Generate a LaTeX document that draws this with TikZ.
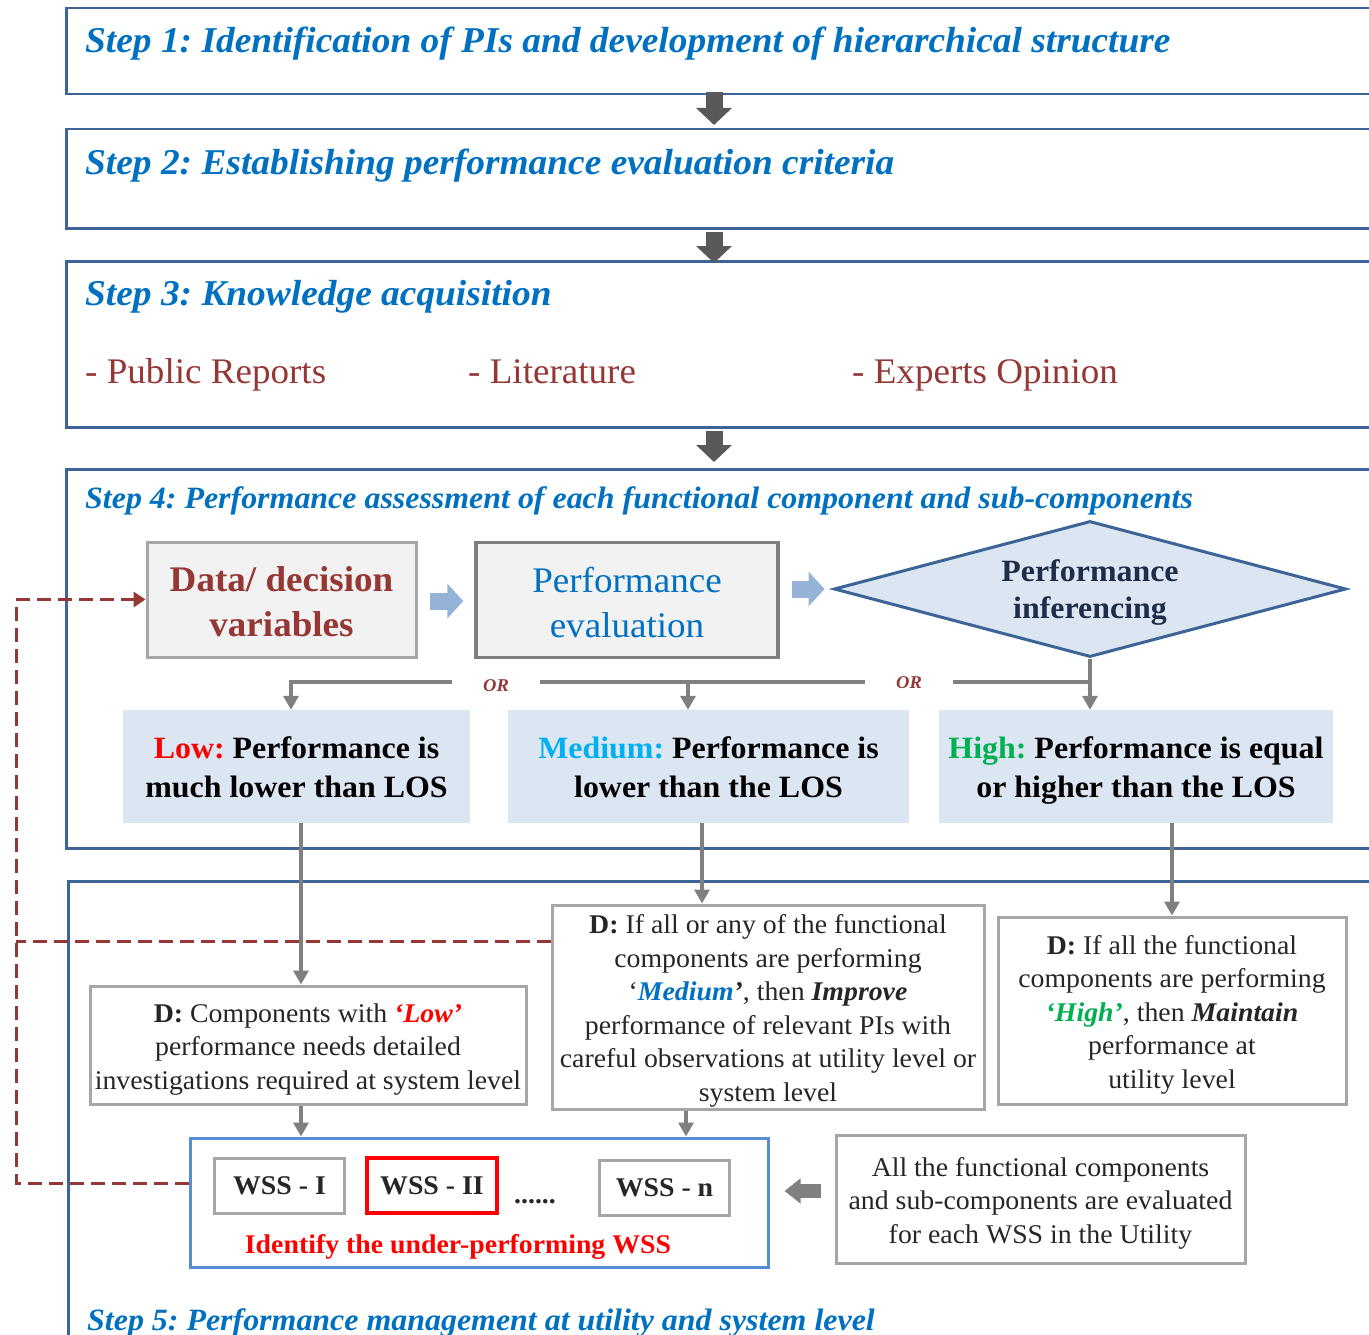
\documentclass[tikz,border=0pt]{standalone}
\usepackage{fontspec}
\setmainfont{Liberation Serif}[FakeStretch=1.03]
\usetikzlibrary{arrows.meta,shapes.geometric,calc}

\definecolor{frameblue}{HTML}{3C6496}
\definecolor{titleblue}{HTML}{0070C0}
\definecolor{darkred}{HTML}{953735}
\definecolor{paleblue}{HTML}{DCE6F2}
\definecolor{arrowblue}{HTML}{95B3D7}
\definecolor{darkgrey}{HTML}{595959}
\definecolor{midgrey}{HTML}{808080}
\definecolor{boxgrey}{HTML}{A6A6A6}
\definecolor{evalgrey}{HTML}{7F7F7F}
\definecolor{stagegrey}{HTML}{F2F2F2}
\definecolor{wssblue}{HTML}{558ED5}
\definecolor{navy}{HTML}{1F2D4A}
\definecolor{medcyan}{HTML}{00B0F0}
\definecolor{highgreen}{HTML}{00B050}
\definecolor{inkgrey}{HTML}{262626}

\newcommand\fsz[2]{\fontsize{#1}{#2}\selectfont}
% invisible rules fixing the height of a first line and the depth of a last line
\newcommand\hstrut[1]{\rule{0pt}{#1pt}}
\newcommand\dstrut[1]{\rule[-#1pt]{0pt}{#1pt}}
\frenchspacing

\tikzset{
  frame/.style={draw=frameblue, line width=2.5pt, anchor=north west, minimum width=1320pt, inner sep=0pt},
  steptitle/.style={anchor=base west, inner sep=0pt, text=titleblue, font=\bfseries\itshape\fsz{36.3}{44}},
  smalltitle/.style={anchor=base west, inner sep=0pt, text=titleblue, font=\bfseries\itshape\fsz{31}{38}},
  source/.style={anchor=base west, inner sep=0pt, text=darkred, font=\fsz{36}{42}},
  greybox/.style={draw=boxgrey, line width=3pt, fill=white, inner sep=0pt, align=center, text=inkgrey, font=\fsz{27}{33.5}},
  losbox/.style={fill=paleblue, inner sep=0pt, align=center, minimum height=113pt, font=\bfseries\fsz{31}{39}},
  stagebox/.style={fill=stagegrey, line width=3pt, inner sep=0pt, align=center, minimum height=115pt, font=\fsz{36}{45}},
  wssitem/.style={draw=boxgrey, line width=3pt, fill=white, minimum height=55pt, minimum width=130pt, inner sep=0pt, font=\bfseries\fsz{27}{32}, text=inkgrey},
  stepflow/.style={draw=darkgrey, line width=17pt, -{Triangle[width=35pt,length=17pt]}},
  stageflow/.style={draw=arrowblue, line width=17pt, -{Triangle[width=34pt,length=16pt]}},
  branch/.style={draw=midgrey, line width=3.5pt},
  drop/.style={draw=midgrey, line width=3.5pt, -{Triangle[width=15pt,length=14pt]}},
  feedback/.style={draw=darkred, line width=3pt, dash pattern=on 14pt off 7pt},
  orlabel/.style={fill=white, inner sep=0pt, minimum width=88pt, minimum height=18pt, text=darkred, font=\bfseries\itshape\fsz{18}{20}}
}

\begin{document}
\begin{tikzpicture}[x=1pt,y=-1pt]
\useasboundingbox (0,0) rectangle (1369,1335);
\clip (0,0) rectangle (1369,1335);
\fill[white] (0,0) rectangle (1369,1335);

% the five step frames and their titles
\node[frame, minimum height=86pt] (s1) at (65,7) {};
\node[steptitle] (t1) at (85,53) {Step 1: Identification of PIs and development of hierarchical structure};
\node[frame, minimum height=99pt] (s2) at (65,128) {};
\node[steptitle] (t2) at (85,175) {Step 2: Establishing performance evaluation criteria};
\node[frame, minimum height=166pt] (s3) at (65,260) {};
\node[steptitle] (t3) at (85,305) {Step 3: Knowledge acquisition};
\node[source] (k1) at (85,383) {- Public Reports};
\node[source] (k2) at (468,383) {- Literature};
\node[source] (k3) at (852,383) {- Experts Opinion};
\node[frame, minimum height=379pt] (s4) at (65,468) {};
\node[smalltitle] (t4) at (85,508) {Step 4: Performance assessment of each functional component and sub-components};
\node[frame, minimum height=500pt] (s5) at (67,880) {};
\node[smalltitle] (t5) at (87,1330) {Step 5: Performance management at utility and system level};

% arrows between steps
\coordinate (ax) at (714,0);
\draw[stepflow] ($(s1.south -| ax)+(0,-3)$) -- ($(s2.north -| ax)+(0,-3)$);
\draw[stepflow] ($(s2.south -| ax)+(0,2)$) -- ($(s3.north -| ax)+(0,3)$);
\draw[stepflow] ($(s3.south -| ax)+(0,2)$) -- ($(s4.north -| ax)+(0,-6)$);

% step 4: assessment chain
\node[stagebox, draw=boxgrey, minimum width=269pt, text=darkred, font=\bfseries\fsz{36}{45}] (data) at (281.5,599.5) {\hstrut{34}Data/ decision\\variables\dstrut{5}};
\node[stagebox, draw=evalgrey, line width=3.5pt, minimum width=302pt, text=titleblue] (perf) at (627,600) {\hstrut{34}Performance\\evaluation\dstrut{5}};
\node[diamond, aspect=3.76, draw=frameblue, line width=3pt, fill=paleblue, inner sep=0pt, minimum width=512pt, minimum height=136pt, align=center, text=navy, font=\bfseries\fsz{31}{37}] (infer) at (1090,589) {\hstrut{30}Performance\\inferencing\dstrut{7.7}};
\draw[stageflow] ($(data.east)+(12,1.5)$) -- ($(perf.west)+(-11,1)$);
\draw[stageflow] ($(perf.east)+(12,-11)$) -- ($(infer.west)+(-8,0)$);

% performance classes
\node[losbox, minimum width=347pt] (low) at (296.5,766.5) {\hstrut{30}{\color{red}Low:} Performance is\\much lower than LOS\dstrut{8}};
\node[losbox, minimum width=401pt] (med) at (708.5,766.5) {\hstrut{30}{\color{medcyan}Medium:} Performance is\\lower than the LOS\dstrut{8}};
\node[losbox, minimum width=394pt] (high) at (1136,766.5) {\hstrut{30}{\color{highgreen}High:} Performance is equal\\or higher than the LOS\dstrut{8}};

\coordinate (hy) at (0,682);
\coordinate (lx) at (291,0);
\coordinate (mx) at (688,0);
\draw[branch] (infer.south |- hy) -- ($(lx |- hy)+(-1.75,0)$);
\draw[drop] (infer.south) -- (infer.south |- high.north);
\draw[drop] (lx |- hy) -- (lx |- low.north);
\draw[drop] (mx |- hy) -- (mx |- med.north);
\node[orlabel] (or1) at (496,686) {OR};
\node[orlabel] (or2) at (909,683) {OR};

% step 5: decisions
\node[greybox, minimum width=436pt, minimum height=118pt] (dlow) at (308,1045)
  {\hstrut{28}{\bfseries D:} Components with {\color{red}\bfseries\itshape ‘Low’}\\performance needs detailed\\investigations required at system level\dstrut{6.6}};
\node[greybox, minimum width=432pt, minimum height=204pt] (dmed) at (768,1007)
  {\hstrut{28}{\bfseries D:} If all or any of the functional\\components are performing\\‘{\color{titleblue}\bfseries\itshape Medium}{\bfseries\itshape ’}, then {\bfseries\itshape Improve}\\performance of relevant PIs with\\careful observations at utility level or\\system level\dstrut{6.6}};
\node[greybox, minimum width=348pt, minimum height=187pt] (dhigh) at (1172,1010.5)
  {\hstrut{28}{\bfseries D:} If all the functional\\components are performing\\{\color{highgreen}\bfseries\itshape ‘High’}, then {\bfseries\itshape Maintain}\\performance at\\utility level\dstrut{6.6}};

\coordinate (lx2) at (301,0);
\coordinate (mx2) at (702,0);
\coordinate (mx3) at (686,0);
\draw[drop] (low.south -| lx2) -- (dlow.north -| lx2);
\draw[drop] (med.south -| mx2) -- (dmed.north -| mx2);
\draw[drop] (high.south -| dhigh.north) -- (dhigh.north);

% water supply systems
\node[draw=wssblue, line width=3pt, fill=white, minimum width=578pt, minimum height=129pt, inner sep=0pt] (wss) at (479,1202.5) {};
\node[wssitem] (w1) at (279.5,1185.5) {WSS - I};
\node[wssitem, draw=red, line width=3.5pt] (w2) at (432,1185.5) {WSS - II};
\node[anchor=base, inner sep=0pt, text=inkgrey, font=\bfseries\fsz{27}{32}] (wdots) at (535,1203) {......};
\node[wssitem] (wn) at (664.5,1187.5) {WSS - n};
\node[anchor=base, inner sep=0pt, text=red, font=\bfseries\fsz{27}{32}] (ident) at (458,1253) {Identify the under-performing WSS};
\node[greybox, minimum width=409pt, minimum height=128pt] (allc) at (1040.5,1199)
  {\hstrut{28}All the functional components\\and sub-components are evaluated\\for each WSS in the Utility\dstrut{6.6}};

\draw[drop] (dlow.south -| lx2) -- (wss.north -| lx2);
\draw[drop] (dmed.south -| mx3) -- (wss.north -| mx3);
\draw[draw=midgrey, line width=14pt, -{Triangle[width=24pt,length=16pt]}] ($(allc.west)+(-14,-8)$) -- ($(wss.east)+(15,-11.5)$);

% feedback loop back to the data
\coordinate (fx) at (16,0);
\coordinate (fy) at (0,941);
\coordinate (fb) at ($(wss.west)+(0,-19.5)$);
\draw[feedback, -{Triangle[width=15pt,length=12pt]}] (fb) -- (fx |- fb) -- (fx |- data.west) -- (data.west);
\draw[feedback] (dmed.west |- fy) -- (fx |- fy);
\end{tikzpicture}
\end{document}
